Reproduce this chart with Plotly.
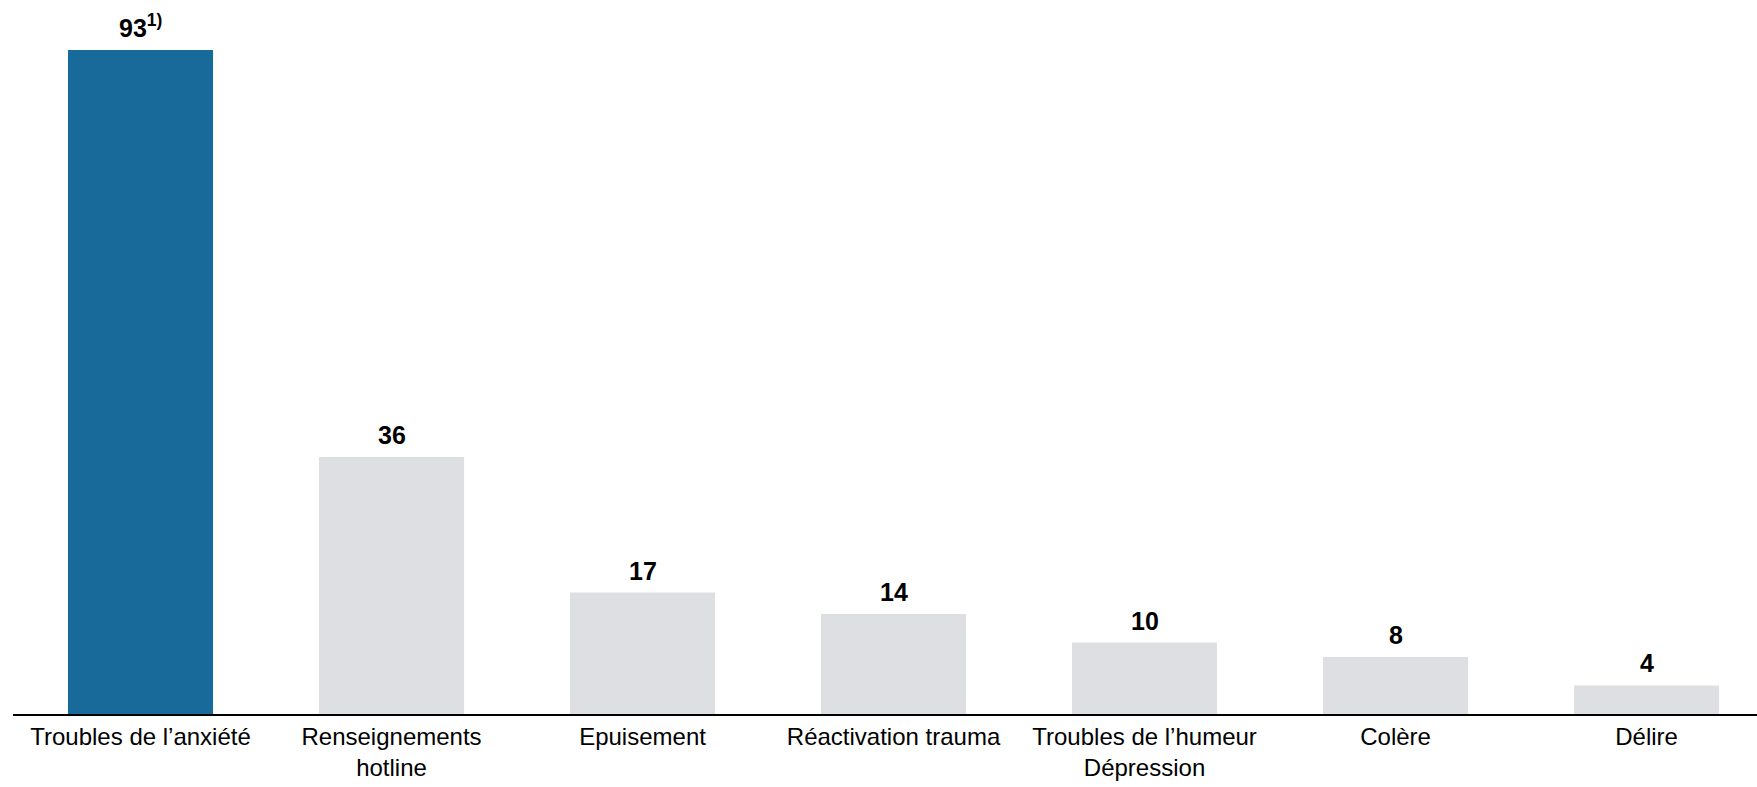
import plotly.graph_objects as go

categories = ["Troubles de l’anxiété", "Renseignements<br>hotline", "Epuisement",
              "Réactivation trauma", "Troubles de l’humeur<br>Dépression", "Colère", "Délire"]
values = [93, 36, 17, 14, 10, 8, 4]
value_labels = ["93<sup>1)</sup>", "36", "17", "14", "10", "8", "4"]

BLUE = "#176a99"
GREY = "#dedfe3"
colors = [BLUE] + [GREY] * (len(values) - 1)
FONT = "Liberation Sans, Arial, sans-serif"

fig = go.Figure()
fig.add_trace(go.Bar(x=list(range(len(categories))), y=values, marker_color=colors,
                     marker_line_width=0, width=0.578, hoverinfo="skip"))

for i, (v, lab) in enumerate(zip(values, value_labels)):
    fig.add_annotation(x=i, y=v, text="<b>" + lab + "</b>", showarrow=False,
                       yanchor="bottom", yshift=6,
                       font=dict(family=FONT, size=25, color="black"))

fig.update_layout(
    width=1757, height=787,
    margin=dict(l=13, r=0, t=0, b=73),
    paper_bgcolor="white", plot_bgcolor="white",
    showlegend=False,
    font=dict(family=FONT, size=24, color="black"),
    xaxis=dict(range=[-0.508, 6.44], tickmode="array",
               tickvals=list(range(len(categories))), ticktext=categories,
               tickangle=0, automargin=False,
               showline=True, linecolor="black", linewidth=2, ticks="",
               showgrid=False, zeroline=False, fixedrange=True,
               tickfont=dict(family=FONT, size=24, color="black")),
    yaxis=dict(range=[0, 100], visible=False, showgrid=False, zeroline=False,
               automargin=False),
)

fig.write_html("out.html")
